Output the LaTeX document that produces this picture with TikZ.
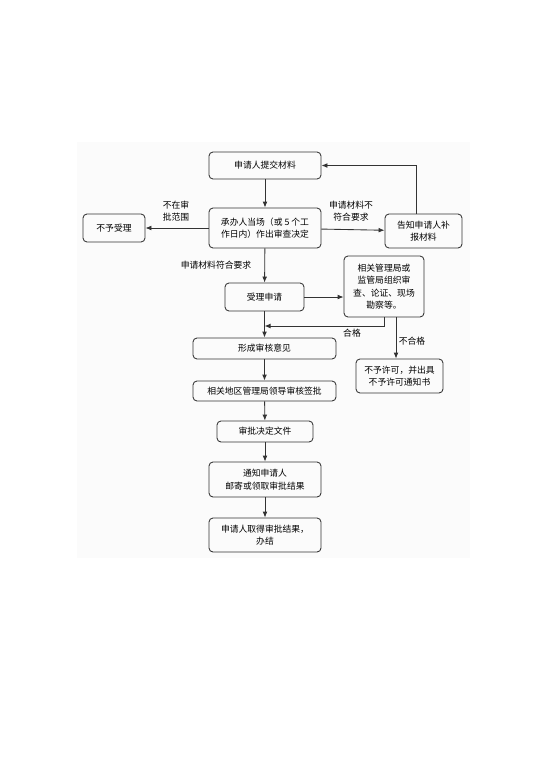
\documentclass[tikz,border=0pt]{standalone}
\usepackage{fontspec}
\setmainfont{Noto Sans CJK SC}
\usetikzlibrary{arrows.meta,positioning}
\newdimen\pxu
\pxu=0.75pt
\tikzstyle{box}=[rectangle, draw=black!80, line width=0.65pt, rounded corners=3pt, inner sep=0pt, align=center, font=\fontsize{6.6pt}{9.3pt}\selectfont]
\tikzstyle{lbl}=[inner sep=0pt, align=center, font=\fontsize{6.6pt}{9.3pt}\selectfont]
\tikzstyle{flow}=[draw=black!80, line width=0.65pt, ->]

\begin{document}
\begin{tikzpicture}[%
    x=0.75pt, y=-0.75pt,
    >={Latex[length=4.5pt,width=3.6pt]}
  ]
      \useasboundingbox (0,0) rectangle (543,768);
      %page
      \fill[black!1.5] (77,142) rectangle (470,558);

      %main column
      \node[box, minimum width=112\pxu, minimum height=27\pxu] (submit) at (265,165.5) {申请人提交材料};
      \node[box, minimum width=112\pxu, minimum height=40\pxu] (decide) at (265,228) {承办人当场（或 5 个工\\作日内）作出审查决定};
      \node[box, minimum width=79\pxu, minimum height=28\pxu] (accept) at (264.5,297) {受理申请};
      \node[box, minimum width=143\pxu, minimum height=21\pxu] (opinion) at (264.5,348.5) {形成审核意见};
      \node[box, minimum width=143\pxu, minimum height=20\pxu] (sign) at (264.5,391) {相关地区管理局领导审核签批};
      \node[box, minimum width=96\pxu, minimum height=21\pxu] (doc) at (265,431.5) {审批决定文件};
      \node[box, minimum width=112\pxu, minimum height=35\pxu] (inform) at (265,479.5) {通知申请人\\邮寄或领取审批结果};
      \node[box, minimum width=112\pxu, minimum height=34\pxu] (done) at (265,535) {申请人取得审批结果，\\办结};

      %side boxes
      \node[box, minimum width=62\pxu, minimum height=28\pxu] (reject) at (114,228) {不予受理};
      \node[box, minimum width=77\pxu, minimum height=34\pxu] (supp) at (423.5,231) {告知申请人补\\报材料};
      \node[box, minimum width=80\pxu, minimum height=61\pxu] (review) at (384,286.5) {相关管理局或\\监管局组织审\\查、论证、现场\\勘察等。};
      \node[box, minimum width=87\pxu, minimum height=34\pxu] (deny) at (399.5,376) {不予许可，并出具\\不予许可通知书};

      %helper points
      \coordinate (back) at (416,165);
      \coordinate (merge) at (264.5,326);
      \coordinate (fail) at (396,317);

      %labels
      \node[lbl] (outscope) at (176,211) {不在审\\批范围};
      \node[lbl] (notok) at (351,211) {申请材料不\\符合要求};
      \node[lbl] (ok) at (216,265) {申请材料符合要求};
      \node[lbl] (pass) at (352,333) {合格};
      \node[lbl] (nopass) at (412,341) {不合格};

      %arrows
      \draw[flow] (submit) -- (decide);
      \draw[flow] (decide) -- (reject);
      \draw[flow] (decide) -- (supp);
      \draw[flow] (supp.north -| back) |- (submit.east);
      \draw[flow] (decide) -- (accept);
      \draw[flow] (accept.east) -- (accept.east -| review.west);
      \draw[flow] (accept) -- (opinion);
      \draw[flow] (review.south) |- (merge);
      \draw[flow] (fail) -- (deny.north -| fail);
      \draw[flow] (opinion) -- (sign);
      \draw[flow] (sign) -- (doc);
      \draw[flow] (doc) -- (inform);
      \draw[flow] (inform) -- (done);
    \end{tikzpicture}
\end{document}
